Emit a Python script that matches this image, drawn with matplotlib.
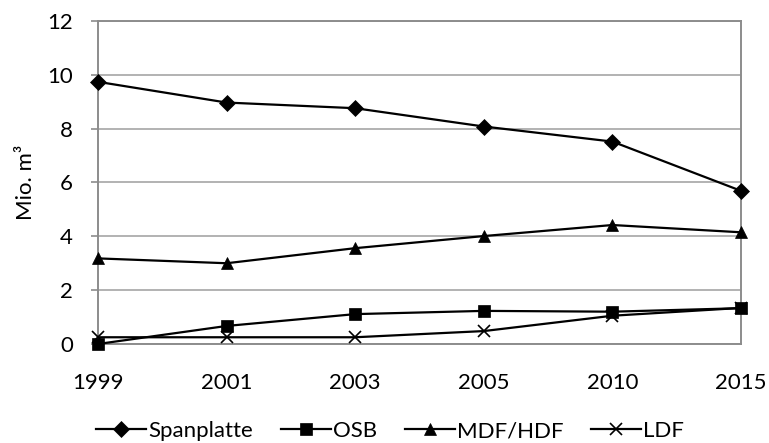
import matplotlib
matplotlib.use("Agg")
import matplotlib.pyplot as plt

years = ["1999", "2001", "2003", "2005", "2010", "2015"]
spanplatte = [9.74, 8.97, 8.76, 8.08, 7.52, 5.69]
osb = [0.0, 0.67, 1.11, 1.23, 1.20, 1.33]
mdf_hdf = [3.18, 3.0, 3.56, 4.01, 4.42, 4.15]
ldf = [0.25, 0.25, 0.25, 0.48, 1.05, 1.34]

plt.rcParams["font.family"] = ["Lato", "DejaVu Sans"]

fig = plt.figure(figsize=(7.69, 4.43), dpi=100)
ax = fig.add_axes([0.1274, 0.2235, 0.8362, 0.7291])

x = range(len(years))
series = [
    ("Spanplatte", spanplatte, "D", 8.5),
    ("OSB", osb, "s", 8.2),
    ("MDF/HDF", mdf_hdf, "^", 9),
    ("LDF", ldf, "x", 8),
]
for label, vals, mk, ms in series:
    ax.plot(x, vals, color="black", lw=1.6, marker=mk, ms=ms,
            mew=1.2 if mk == "x" else 0.5, label=label, clip_on=False, zorder=3)

ax.set_xlim(0, len(years) - 1)
ax.set_ylim(0, 12)
ax.set_yticks(range(0, 13, 2))
ax.set_xticks(list(x))
ax.set_xticklabels(years)
ax.yaxis.grid(True, color="#a6a6a6", lw=1.2)
ax.set_axisbelow(True)
for sp in ax.spines.values():
    sp.set_color("#8c8c8c")
    sp.set_linewidth(1.4)
ax.tick_params(axis="y", length=5, width=1.2, color="#8c8c8c", labelsize=16, pad=13)
ax.tick_params(axis="x", length=0, labelsize=16, pad=21)
ax.set_ylabel("Mio. m³", fontsize=16, labelpad=8)

fig.legend(loc="center", bbox_to_anchor=(390 / 769, 1 - 431 / 443), ncol=4,
           frameon=False, fontsize=16, handlelength=2.25, handletextpad=0.1,
           columnspacing=1.25, borderaxespad=0, borderpad=0)

fig.savefig("out.png", dpi=100)
